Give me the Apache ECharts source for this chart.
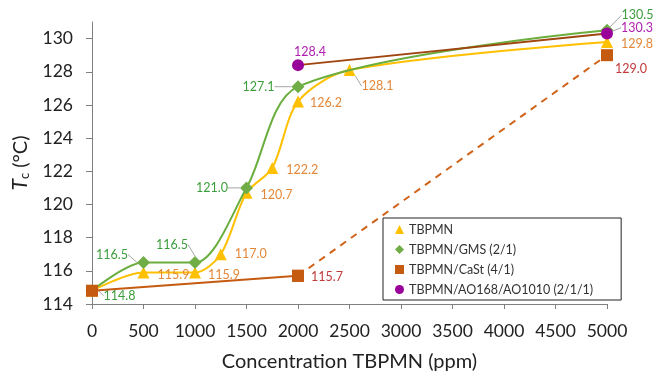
<!DOCTYPE html>
<html>
<head>
<meta charset="utf-8">
<script src="https://cdn.jsdelivr.net/npm/echarts@6/dist/echarts.min.js"></script>
<style>
  html, body { margin: 0; padding: 0; background: #fff; }
  #chart { width: 654px; height: 372px; }
</style>
</head>
<body>
<div id="chart"></div>
<script>
// concentrations (ppm) and crystallization temperatures (°C)
var concTBPMN = [0, 500, 1000, 1250, 1500, 1750, 2000, 2500, 5000];
var tcTBPMN = [114.8, 115.9, 115.9, 117.0, 120.7, 122.2, 126.2, 128.1, 129.8];

var concGMS = [0, 500, 1000, 1500, 2000, 5000];
var tcGMS = [114.8, 116.5, 116.5, 121.0, 127.1, 130.5];

var concCaSt = [0, 2000];
var tcCaSt = [114.8, 115.7];
var concCaStDash = [2000, 5000];
var tcCaStDash = [115.7, 129.0];

var concAO = [2000, 5000];
var tcAO = [128.4, 130.3];

var xTicks = [0, 500, 1000, 1500, 2000, 2500, 3000, 3500, 4000, 4500, 5000];
var yTicks = [114, 116, 118, 120, 122, 124, 126, 128, 130];

// label placement: [position, dx, dy, leader line] or null = no label
var lblTBPMN = [null, ['right', 3, 2], ['right', 2, 2], ['right', 3, 0], ['right', 3, 2],
  ['right', 3, 2], ['right', 1, 1], ['right', 1, 16, true], ['right', 3, 2]];
var lblGMS = [['right', 0, 5, true], ['left', -4, -8, true], ['top', -23, 0, true],
  ['left', -7, 0, true], ['left', -12, 0, true], ['right', 3, -15, true]];
var lblCaSt = [null, ['right', 2, 1]];
var lblCaStDash = [null, ['right', -3, 14]];
var lblAO = [['top', 12, 4], ['right', 3, -6, true]];

var FONT = 'Lato, "Open Sans", sans-serif';

function build(xs, ys, lbls, color) {
  return xs.map(function (x, i) {
    var l = lbls[i];
    var item = { value: [x, ys[i]] };
    if (l) {
      item.label = { show: true, position: l[0], color: color };
      item.labelLine = { show: !!l[3] };
    } else {
      item.label = { show: false };
      item.labelLine = { show: false };
    }
    return item;
  });
}

var allLbls = [lblTBPMN, lblGMS, lblCaSt, lblCaStDash, lblAO];

function layout(params) {
  var l = allLbls[params.seriesIndex][params.dataIndex];
  if (!l) return {};
  return { dx: l[1], dy: l[2] };
}

var labelBase = {
  fontFamily: FONT,
  fontSize: 12.5,
  formatter: function (p) { return p.value[1].toFixed(1); }
};
var leader = { show: true, length2: 0, lineStyle: { color: '#a6a6a6', width: 1 } };

var chart = echarts.init(document.getElementById('chart'));
chart.setOption({
  animation: false,
  backgroundColor: '#fff',
  grid: { left: 92, right: 47, top: 22, bottom: 68, outerBoundsMode: 'none', containLabel: false },
  legend: {
    orient: 'vertical',
    left: 383,
    top: 218,
    width: 222,
    backgroundColor: '#fff',
    borderColor: '#222',
    borderWidth: 1,
    borderRadius: 0,
    padding: [5, 28, 4, 12],
    itemGap: 7,
    itemWidth: 9,
    itemHeight: 9,
    textStyle: { fontFamily: FONT, fontSize: 12.5, color: '#333' },
    data: [
      { name: 'TBPMN', icon: 'triangle' },
      { name: 'TBPMN/GMS (2/1)', icon: 'diamond' },
      { name: 'TBPMN/CaSt (4/1)', icon: 'rect' },
      { name: 'TBPMN/AO168/AO1010 (2/1/1)', icon: 'circle' }
    ]
  },
  xAxis: {
    type: 'value',
    min: 0,
    max: 5000,
    interval: 500,
    name: 'Concentration TBPMN (ppm)',
    nameLocation: 'middle',
    nameGap: 48,
    nameTextStyle: { fontFamily: FONT, fontSize: 20, color: '#222' },
    axisLine: { lineStyle: { color: '#808080', width: 1 } },
    axisTick: { show: true, length: 5, lineStyle: { color: '#808080' } },
    axisLabel: { margin: 18, fontFamily: FONT, fontSize: 17.5, color: '#222',
      customValues: xTicks, formatter: function (v) { return String(v); } },
    splitLine: { show: false }
  },
  yAxis: {
    type: 'value',
    min: 114,
    max: 131,
    interval: 2,
    name: '{i|T}{s|c} (°C)',
    nameLocation: 'middle',
    nameGap: 60,
    nameTextStyle: {
      fontFamily: FONT, fontSize: 20, color: '#222',
      rich: {
        i: { fontFamily: FONT, fontSize: 21, fontStyle: 'italic', color: '#222' },
        s: { fontFamily: FONT, fontSize: 13, color: '#222', padding: [9, 0, 0, 0] }
      }
    },
    axisLine: { show: true, lineStyle: { color: '#808080', width: 1 } },
    axisTick: { show: true, length: 6, lineStyle: { color: '#808080' }, customValues: yTicks },
    axisLabel: { margin: 19, fontFamily: FONT, fontSize: 17.5, color: '#222', customValues: yTicks },
    splitLine: { show: false }
  },
  series: [
    {
      name: 'TBPMN',
      type: 'line',
      smooth: 0.3,
      symbol: 'triangle',
      symbolSize: 12,
      itemStyle: { color: '#FFC000' },
      lineStyle: { color: '#FFC000', width: 2 },
      label: Object.assign({ color: '#E3883A' }, labelBase),
      labelLine: leader,
      labelLayout: layout,
      data: build(concTBPMN, tcTBPMN, lblTBPMN, '#E3883A'),
      z: 2
    },
    {
      name: 'TBPMN/GMS (2/1)',
      type: 'line',
      smooth: 0.3,
      symbol: 'diamond',
      symbolSize: 13,
      itemStyle: { color: '#70AD47' },
      lineStyle: { color: '#6AAE3E', width: 2 },
      label: Object.assign({ color: '#3C9E3C' }, labelBase),
      labelLine: leader,
      labelLayout: layout,
      data: build(concGMS, tcGMS, lblGMS, '#3C9E3C'),
      z: 3
    },
    {
      name: 'TBPMN/CaSt (4/1)',
      type: 'line',
      symbol: 'rect',
      symbolSize: 12,
      itemStyle: { color: '#C55A11' },
      lineStyle: { color: '#C55A11', width: 2 },
      label: Object.assign({ color: '#C0393B' }, labelBase),
      labelLine: leader,
      labelLayout: layout,
      data: build(concCaSt, tcCaSt, lblCaSt, '#C0393B'),
      z: 4
    },
    {
      name: 'TBPMN/CaSt (4/1)',
      type: 'line',
      symbol: 'rect',
      symbolSize: 12,
      itemStyle: { color: '#C55A11' },
      lineStyle: { color: '#D0631A', width: 2, type: [7, 6] },
      label: Object.assign({ color: '#C0393B' }, labelBase),
      labelLine: leader,
      labelLayout: layout,
      data: build(concCaStDash, tcCaStDash, lblCaStDash, '#C0393B'),
      z: 4
    },
    {
      name: 'TBPMN/AO168/AO1010 (2/1/1)',
      type: 'line',
      symbol: 'circle',
      symbolSize: 12,
      itemStyle: { color: '#990099' },
      lineStyle: { color: '#A0450F', width: 2 },
      label: Object.assign({ color: '#B020B0' }, labelBase),
      labelLine: leader,
      labelLayout: layout,
      data: build(concAO, tcAO, lblAO, '#B020B0'),
      z: 5
    }
  ]
});
</script>
</body>
</html>
